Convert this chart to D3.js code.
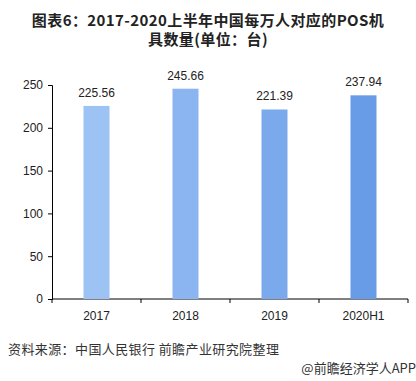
<!DOCTYPE html>
<html><head><meta charset="utf-8">
<script src="https://cdn.jsdelivr.net/npm/d3@7"></script>
<style>
html,body{margin:0;padding:0;background:#fff;}
svg{display:block;}
</style></head>
<body>
<script>
const categories = ["2017", "2018", "2019", "2020H1"];
const values = [225.56, 245.66, 221.39, 237.94];
const barColors = ["#9dc3f5", "#8bb5f0", "#7aa9ec", "#689ce7"];
const yTicks = [0, 50, 100, 150, 200, 250];
const titleLines = ["图表6：2017-2020上半年中国每万人对应的POS机", "具数量(单位：台)"];
const sourceText = "资料来源：中国人民银行  前瞻产业研究院整理";
const brandText = "@前瞻经济学人APP";

const W = 416, H = 381;
const svg = d3.select("body").append("svg").attr("width", W).attr("height", H);
const font = "'Microsoft YaHei','Noto Sans CJK SC','Noto Sans',sans-serif";

svg.selectAll("text.title").data(titleLines).enter().append("text")
  .attr("x", 208).attr("y", (d, i) => 26 + i * 19)
  .attr("text-anchor", "middle").attr("font-family", font)
  .attr("font-weight", "bold").attr("font-size", 15).attr("letter-spacing", 0.4).attr("fill", "#222")
  .text(d => d);

const x = d3.scaleBand().domain(categories).range([52, 408]).paddingInner(0.708).paddingOuter(0.354);
const y = d3.scaleLinear().domain([0, 250]).range([299, 85]);

const yAxis = svg.append("g").attr("transform", "translate(52,0)")
  .call(d3.axisLeft(y).tickValues(yTicks).tickSize(4).tickPadding(5));
yAxis.select(".domain").attr("stroke", "#000");
yAxis.selectAll(".tick line").attr("stroke", "#000");
yAxis.selectAll("text").attr("font-family", "'Liberation Sans',Arial,sans-serif").attr("font-size", 12).attr("fill", "#222");

// x axis with ticks at band boundaries
const xg = svg.append("g").attr("transform", "translate(0,299)");
xg.append("line").attr("x1", 52).attr("x2", 408).attr("stroke", "#000");
const bounds = [52].concat(categories.map(c => x(c) + x.bandwidth() / 2 + x.step() / 2));
xg.selectAll("line.tk").data(bounds).enter().append("line")
  .attr("x1", d => d).attr("x2", d => d).attr("y1", 0).attr("y2", 4).attr("stroke", "#000");
xg.selectAll("text").data(categories).enter().append("text")
  .attr("x", d => x(d) + x.bandwidth() / 2).attr("y", 21)
  .attr("text-anchor", "middle").attr("font-family", "'Liberation Sans',Arial,sans-serif")
  .attr("font-size", 12).attr("fill", "#222").text(d => d);

const data = categories.map((c, i) => ({c, v: values[i], col: barColors[i]}));
svg.selectAll("rect.bar").data(data).enter().append("rect")
  .attr("x", d => x(d.c)).attr("width", x.bandwidth())
  .attr("y", d => y(d.v)).attr("height", d => y(0) - y(d.v))
  .attr("fill", d => d.col);

svg.selectAll("text.val").data(data).enter().append("text")
  .attr("x", d => x(d.c) + x.bandwidth() / 2).attr("y", d => y(d.v) - 9)
  .attr("text-anchor", "middle").attr("font-family", "'Liberation Sans',Arial,sans-serif")
  .attr("font-size", 12).attr("fill", "#222").text(d => d.v.toFixed(2));

svg.append("text").attr("x", 8).attr("y", 354)
  .attr("font-family", font).attr("font-size", 13).attr("fill", "#333")
  .attr("letter-spacing", 0.4).text(sourceText);
svg.append("text").attr("x", 416).attr("y", 373).attr("text-anchor", "end")
  .attr("font-family", font).attr("font-size", 13).attr("fill", "#333").text(brandText);
</script>
</body></html>
